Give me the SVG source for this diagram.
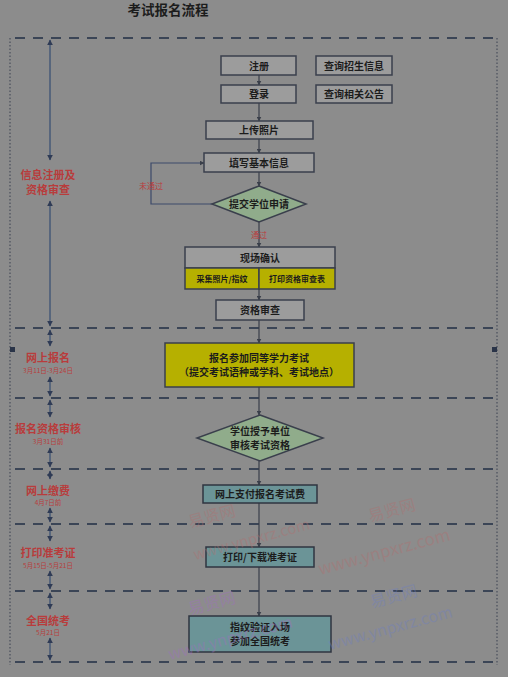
<svg xmlns="http://www.w3.org/2000/svg" width="508" height="677" viewBox="0 0 508 677">
<defs>
<marker id="ah" viewBox="0 0 10 10" refX="9" refY="5" markerWidth="6" markerHeight="6" orient="auto-start-reverse" markerUnits="userSpaceOnUse"><path d="M0,0 L10,5 L0,10 z" fill="#2f3b55"/></marker>
<marker id="sa" viewBox="0 0 10 10" refX="9" refY="5" markerWidth="5" markerHeight="5" orient="auto" markerUnits="userSpaceOnUse"><path d="M0,0 L10,5 L0,10 z" fill="#3a3f4a"/></marker>
<style>
.t{font-family:"Noto Sans CJK SC","Noto Sans",sans-serif;font-weight:bold;fill:#1c1c1c;text-anchor:middle}
.box{fill:#9c9c9c;stroke:#3a3f4c;stroke-width:1.5}
.yel{fill:#b6b000;stroke:#3a3f4c;stroke-width:1.5}
.grn{fill:#90ac8b;stroke:#3a3f4c;stroke-width:1.5}
.teal{fill:#6b9497;stroke:#2f3540;stroke-width:1.5}
.lab{font-family:"Noto Sans CJK SC","Noto Sans",sans-serif;font-weight:bold;fill:#b83c3c;text-anchor:middle;font-size:11px}
.dt{font-family:"Noto Sans CJK SC","Noto Sans",sans-serif;fill:#b83c3c;text-anchor:middle;font-size:6.5px}
.dash{stroke:#3b4556;stroke-width:2;stroke-dasharray:10 8;fill:none}
.dot{stroke:#3b4050;stroke-width:1;stroke-dasharray:1.5 2;fill:none}
.dim{stroke:#3c5275;stroke-width:1.3;fill:none;marker-start:url(#ah);marker-end:url(#ah)}
.flow{stroke:#3a3f4a;stroke-width:1.2;fill:none;marker-end:url(#sa)}
.wm{font-family:"Noto Sans CJK SC","Liberation Serif",serif;opacity:0.4}
</style>
</defs>
<rect width="508" height="677" fill="#8c8c8c"/>
<text x="168" y="15" class="t" style="font-size:13.5px">考试报名流程</text>

<g id="frame">
<line class="dash" x1="15" y1="38" x2="497" y2="38"/>
<line class="dash" x1="15" y1="328" x2="497" y2="328"/>
<line class="dash" x1="15" y1="398" x2="497" y2="398"/>
<line class="dash" x1="15" y1="469" x2="497" y2="469"/>
<line class="dash" x1="15" y1="524" x2="497" y2="524"/>
<line class="dash" x1="15" y1="591" x2="497" y2="591"/>
<line class="dash" x1="15" y1="662" x2="497" y2="662"/>
<line class="dot" x1="10" y1="38" x2="10" y2="665"/>
<line class="dot" x1="497" y1="38" x2="497" y2="665"/>
<rect x="10" y="347" width="5" height="5" fill="#2a3448"/>
<rect x="492" y="347" width="5" height="5" fill="#2a3448"/>
</g>

<g id="dimensions">
<line class="dim" x1="50" y1="40" x2="50" y2="160"/>
<line class="dim" x1="50" y1="201" x2="50" y2="326"/>
<line class="dim" x1="50" y1="330" x2="50" y2="346"/>
<line class="dim" x1="50" y1="377" x2="50" y2="396"/>
<line class="dim" x1="50" y1="400" x2="50" y2="417"/>
<line class="dim" x1="50" y1="448" x2="50" y2="467"/>
<line class="dim" x1="50" y1="471" x2="50" y2="479"/>
<line class="dim" x1="50" y1="508" x2="50" y2="522"/>
<line class="dim" x1="50" y1="526" x2="50" y2="541"/>
<line class="dim" x1="50" y1="571" x2="50" y2="589"/>
<line class="dim" x1="50" y1="593" x2="50" y2="609"/>
<line class="dim" x1="50" y1="638" x2="50" y2="660"/>
</g>

<g id="stage-labels">
<text class="lab" x="48" y="179">信息注册及</text>
<text class="lab" x="48" y="194">资格审查</text>
<text class="lab" x="48" y="362">网上报名</text>
<text class="dt" x="48" y="373">3月11日-3月24日</text>
<text class="lab" x="48" y="433">报名资格审核</text>
<text class="dt" x="48" y="444">3月31日前</text>
<text class="lab" x="48" y="495">网上缴费</text>
<text class="dt" x="48" y="505">4月7日前</text>
<text class="lab" x="48" y="557">打印准考证</text>
<text class="dt" x="48" y="568">5月15日-5月21日</text>
<text class="lab" x="48" y="625">全国统考</text>
<text class="dt" x="48" y="635">5月21日</text>
</g>

<g id="connectors">
<line class="flow" x1="259" y1="75" x2="259" y2="85"/>
<line class="flow" x1="259" y1="103" x2="259" y2="121"/>
<line class="flow" x1="259" y1="139" x2="259" y2="153"/>
<line class="flow" x1="259" y1="172" x2="259" y2="186"/>
<line class="flow" x1="259" y1="222" x2="259" y2="247"/>
<line class="flow" x1="259" y1="289" x2="259" y2="300"/>
<line class="flow" x1="259" y1="320" x2="259" y2="343"/>
<line class="flow" x1="259" y1="387" x2="259" y2="415"/>
<line class="flow" x1="259" y1="461" x2="259" y2="485"/>
<line class="flow" x1="259" y1="503" x2="259" y2="547"/>
<line class="flow" x1="259" y1="567" x2="259" y2="616"/>
<path class="flow" d="M212,204 H151 V163 H204" style="stroke:#3c4a6a"/>
<text class="lab" x="151" y="189" style="font-size:8px;font-weight:normal">未通过</text>
<text class="lab" x="259" y="238" style="font-size:8px;font-weight:normal">通过</text>
</g>

<g id="n-register"><rect class="box" x="221" y="56" width="75" height="19"/><text class="t" x="259" y="69.5" style="font-size:10px">注册</text></g>
<g id="n-query1"><rect class="box" x="316" y="56" width="76" height="19"/><text class="t" x="354" y="69.5" style="font-size:10px">查询招生信息</text></g>
<g id="n-login"><rect class="box" x="221" y="85" width="75" height="18"/><text class="t" x="259" y="98" style="font-size:10px">登录</text></g>
<g id="n-query2"><rect class="box" x="316" y="85" width="76" height="18"/><text class="t" x="354" y="98" style="font-size:10px">查询相关公告</text></g>
<g id="n-photo"><rect class="box" x="206" y="121" width="107" height="18"/><text class="t" x="259" y="134" style="font-size:10px">上传照片</text></g>
<g id="n-info"><rect class="box" x="204" y="153" width="110" height="19"/><text class="t" x="259" y="166.5" style="font-size:10px">填写基本信息</text></g>
<g id="n-apply"><polygon class="grn" points="259,186 306,204 259,222 212,204"/><text class="t" x="259" y="208" style="font-size:10px">提交学位申请</text></g>
<g id="n-confirm">
<rect class="box" x="185" y="247" width="150" height="21"/>
<rect class="yel" x="185" y="268" width="74" height="21"/>
<rect class="yel" x="259" y="268" width="76" height="21"/>
<text class="t" x="260" y="261.5" style="font-size:10px">现场确认</text>
<text class="t" x="222" y="282" style="font-size:8px">采集照片/指纹</text>
<text class="t" x="297" y="282" style="font-size:8px">打印资格审查表</text>
</g>
<g id="n-review"><rect class="box" x="216" y="300" width="88" height="20"/><text class="t" x="260" y="314" style="font-size:10px">资格审查</text></g>
<g id="n-signup"><rect class="yel" x="165" y="343" width="189" height="44"/><text class="t" x="259" y="362" style="font-size:10px">报名参加同等学力考试</text><text class="t" x="259" y="376" style="font-size:10px">（提交考试语种或学科、考试地点）</text></g>
<g id="n-audit"><polygon class="grn" points="260,415 323,438 260,461 197,438"/><text class="t" x="260" y="435" style="font-size:10px">学位授予单位</text><text class="t" x="260" y="449" style="font-size:10px">审核考试资格</text></g>
<g id="n-pay"><rect class="teal" x="203" y="485" width="114" height="18"/><text class="t" x="260" y="498" style="font-size:10px">网上支付报名考试费</text></g>
<g id="n-print"><rect class="teal" x="206" y="547" width="108" height="20"/><text class="t" x="260" y="561" style="font-size:10px">打印/下载准考证</text></g>
<g id="n-exam"><rect class="teal" x="189" y="616" width="142" height="36"/><text class="t" x="260" y="631" style="font-size:10px">指纹验证入场</text><text class="t" x="260" y="645" style="font-size:10px">参加全国统考</text></g>

<g id="watermarks">
<text class="wm" x="190" y="528" transform="rotate(-15 190 528)" style="font-size:16px;fill:#b07070">易贤网</text>
<text class="wm" x="195" y="560" transform="rotate(-15 195 560)" style="font-size:15px;fill:#b07070">www.ynpxrz.com</text>
<text class="wm" x="370" y="522" transform="rotate(-15 370 522)" style="font-size:16px;fill:#b07070">易贤网</text>
<text class="wm" x="320" y="575" transform="rotate(-15 320 575)" style="font-size:17px;fill:#b07070">www.ynpxrz.com</text>
<text class="wm" x="190" y="615" transform="rotate(-15 190 615)" style="font-size:16px;fill:#a070c0">易贤网</text>
<text class="wm" x="170" y="660" transform="rotate(-15 170 660)" style="font-size:16px;fill:#a070c0">www.ynpxrz.com</text>
<text class="wm" x="372" y="608" transform="rotate(-15 372 608)" style="font-size:16px;fill:#7080c0">易贤网</text>
<text class="wm" x="330" y="650" transform="rotate(-15 330 650)" style="font-size:16px;fill:#7080c0">www.ynpxrz.com</text>
</g>
</svg>
